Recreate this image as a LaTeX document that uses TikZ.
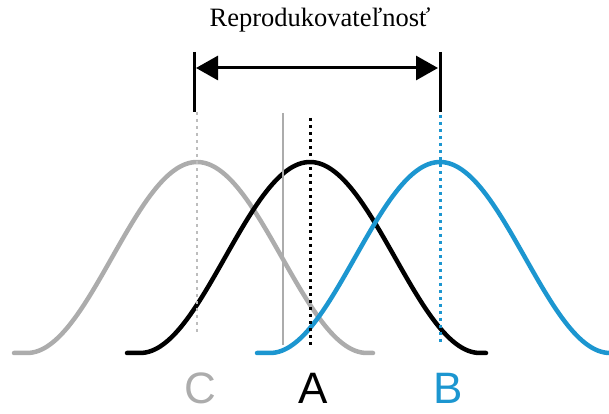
\documentclass[tikz,border=0pt]{standalone}
\usepackage{fontspec}
\setmainfont{Liberation Serif}
\newfontfamily\letterfont{Liberation Sans}
\usepackage{tikz}
\usetikzlibrary{arrows.meta}
\usepackage{xcolor}
\definecolor{cblue}{RGB}{28,150,208}
\definecolor{cgray}{RGB}{172,172,172}

\begin{document}
\begin{tikzpicture}[
    x=1pt, y=1pt,
    curve/.style  = {line width=4.5pt, line cap=round},
    mean/.style   = {line width=3pt, dash pattern=on 3pt off 4pt},
    tick/.style   = {line width=3pt},
    span/.style   = {{Triangle[length=22pt, width=24pt]}-{Triangle[length=22pt, width=24pt]}, line width=3pt},
    letter/.style = {font=\letterfont\fontsize{44}{46}\selectfont, anchor=base, inner sep=0pt},
    title/.style  = {font=\fontsize{26.5}{30}\selectfont, anchor=base}
  ]
  \useasboundingbox (0,0) rectangle (609,414);
  % bump parameters (raised cosine, not a true gaussian)
  \def\base{61}
  \def\hgt{191}
  \def\w{170}

  % the three distributions C, A, B
  \foreach \c/\col in {197/cgray, 310/black, 440/cblue}{
    \draw[curve, \col] plot[domain=\c-183:\c+176, samples=120]
      (\x, {\base + \hgt*(1+cos(min(180,abs(\x-\c)/\w*180)))/2});
  }

  % mean lines
  \coordinate (ctop) at (197,302);
  \coordinate (cbot) at (197,79);
  \coordinate (atop) at (310,296);
  \coordinate (abot) at (310,69);
  \coordinate (btop) at (440,299);
  \coordinate (bbot) at (440,69);
  \coordinate (rtop) at (283,301);
  \coordinate (rbot) at (283,69);
  \draw[mean, line width=2pt, cgray!80] (ctop) -- (cbot);
  \draw[mean, black] (atop) -- (abot);
  \draw[mean, cblue] (btop) -- (bbot);
  \draw[line width=1.2pt, cgray] (rtop) -- (rbot);

  % reproducibility span
  \coordinate (lup) at (194,362);
  \coordinate (ldn) at (194,302);
  \coordinate (rup) at (440,362);
  \coordinate (rdn) at (440,302);
  \coordinate (lft) at (196,346);
  \coordinate (rgt) at (438,346);
  \draw[tick] (lup) -- (ldn);
  \draw[tick] (rup) -- (rdn);
  \draw[span] (lft) -- (rgt);
  \node[title] (rep) at (320,387) {Reprodukovateľnosť};

  % labels
  \node[letter, cgray] (labc) at (200,10) {C};
  \node[letter, black] (laba) at (313,10) {A};
  \node[letter, cblue] (labb) at (448,10) {B};
\end{tikzpicture}
\end{document}
